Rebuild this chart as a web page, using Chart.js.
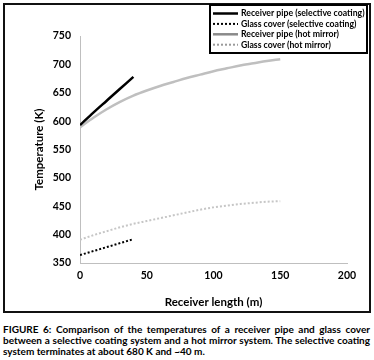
<!DOCTYPE html>
<html>
<head>
<meta charset="utf-8">
<script src="https://cdn.jsdelivr.net/npm/chart.js@4.4.1/dist/chart.umd.min.js"></script>
<style>
  html, body { margin: 0; padding: 0; background: #fff; }
  body { width: 374px; height: 360px; position: relative; overflow: hidden; font-family: Lato, "Open Sans", sans-serif; }
  #frame { position: absolute; left: 3px; top: 3px; width: 364px; height: 306px; border: 2px solid #111; }
  #chartWrap { position: absolute; left: 0; top: 0; width: 374px; height: 320px; }
  #legendFrame { position: absolute; z-index: 5; left: 209px; top: 4px; width: 155px; height: 46px; border: 2px solid #000; }
  #caption { position: absolute; left: 3px; top: 324px; width: 367px; font-size: 10px; font-weight: bold;
             line-height: 11px; text-align: justify; color: #000; }
</style>
</head>
<body>
<div id="frame"></div>
<div id="chartWrap"><canvas id="tempChart" width="374" height="320"></canvas></div>
<div id="legendFrame"></div>
<div id="caption">FIGURE 6: Comparison of the temperatures of a receiver pipe and glass cover between a selective coating system and a hot mirror system. The selective coating system terminates at about 680 K and ~40 m.</div>
<script>
// receiver length (m)
const lengthSelective = [0, 10, 20, 30, 40];
const lengthMirror = [0, 10, 20, 30, 40, 50, 60, 70, 80, 90, 100, 110, 120, 130, 140, 150];

// temperatures (K)
const pipeSelective = [593, 615, 636, 657, 678];
const glassSelective = [364, 371, 378, 385, 392];
const pipeMirror = [589, 606, 621, 634, 645, 654, 662, 669, 676, 682, 688, 693, 698, 702, 706, 709];
const glassMirror = [391, 399, 406, 413, 419, 424, 429, 434, 439, 444, 448, 451, 454, 456, 458, 459];

const seriesNames = [
    'Receiver pipe (selective coating)',
    'Glass cover (selective coating)',
    'Receiver pipe (hot mirror)',
    'Glass cover (hot mirror)'
];

const xTicks = [0, 50, 100, 150, 200];
const yTicks = [350, 400, 450, 500, 550, 600, 650, 700, 750];

function toPoints(xs, ys) {
    return xs.map((x, i) => ({ x: x, y: ys[i] }));
}

const datasets = [
    { label: seriesNames[0], data: toPoints(lengthSelective, pipeSelective), borderColor: '#000', borderWidth: 2.5, borderDash: [] },
    { label: seriesNames[1], data: toPoints(lengthSelective, glassSelective), borderColor: '#000', borderWidth: 2, borderDash: [2, 2] },
    { label: seriesNames[2], data: toPoints(lengthMirror, pipeMirror), borderColor: '#bfbfbf', borderWidth: 2.5, borderDash: [] },
    { label: seriesNames[3], data: toPoints(lengthMirror, glassMirror), borderColor: '#c6c6c6', borderWidth: 2, borderDash: [2, 2] }
];
datasets.forEach(d => {
    d.showLine = true;
    d.pointRadius = 0;
    d.fill = false;
    d.cubicInterpolationMode = 'monotone';
});

// legend entries drawn next to their line samples (frame is the #legendFrame div)
const legendColors = ['#000', '#000', '#8a8a8a', '#9a9a9a'];
const legendBox = {
    id: 'legendBox',
    afterDraw(chart) {
        const c = chart.ctx;
        c.save();
        c.font = 'bold 8.7px Lato';
        c.textBaseline = 'middle';
        chart.data.datasets.forEach((d, i) => {
            const y = 13.5 + i * 10.4;
            c.beginPath();
            c.strokeStyle = legendColors[i];
            c.lineWidth = d.borderWidth;
            c.setLineDash(d.borderDash);
            c.moveTo(213, y);
            c.lineTo(238, y);
            c.stroke();
            c.fillStyle = '#000';
            c.fillText(d.label, 241, y);
        });
        c.restore();
    }
};

const tickFont = { family: 'Lato', size: 10.5, weight: 'bold' };
const titleFont = { family: 'Lato', size: 11.5, weight: 'bold' };

const ctx = document.getElementById('tempChart').getContext('2d');
const tempChart = new Chart(ctx, {
    type: 'scatter',
    data: { datasets: datasets },
    plugins: [legendBox],
    options: {
        responsive: false,
        animation: false,
        layout: { padding: { left: 0, top: 36, right: 27, bottom: 0 } },
        plugins: { legend: { display: false }, tooltip: { enabled: false } },
        scales: {
            x: {
                type: 'linear', min: 0, max: 200,
                afterBuildTicks: s => { s.ticks = xTicks.map(v => ({ value: v })); },
                afterFit: s => { s.height = 57; },
                grid: { display: false, drawTicks: false },
                border: { color: '#bfbfbf', width: 1 },
                ticks: { font: tickFont, color: '#000', padding: 6 },
                title: { display: true, text: 'Receiver length (m)', font: titleFont, color: '#000', padding: { top: 0, bottom: 11 } }
            },
            y: {
                min: 350, max: 750,
                afterBuildTicks: s => { s.ticks = yTicks.map(v => ({ value: v })); },
                afterFit: s => { s.width = 80; },
                grid: { display: false, drawTicks: false },
                border: { color: '#bfbfbf', width: 1 },
                ticks: { font: tickFont, color: '#000', padding: 9 },
                title: { display: true, text: 'Temperature (K)', font: titleFont, color: '#000', padding: { top: 32, bottom: 0 } }
            }
        }
    }
});
</script>
</body>
</html>
